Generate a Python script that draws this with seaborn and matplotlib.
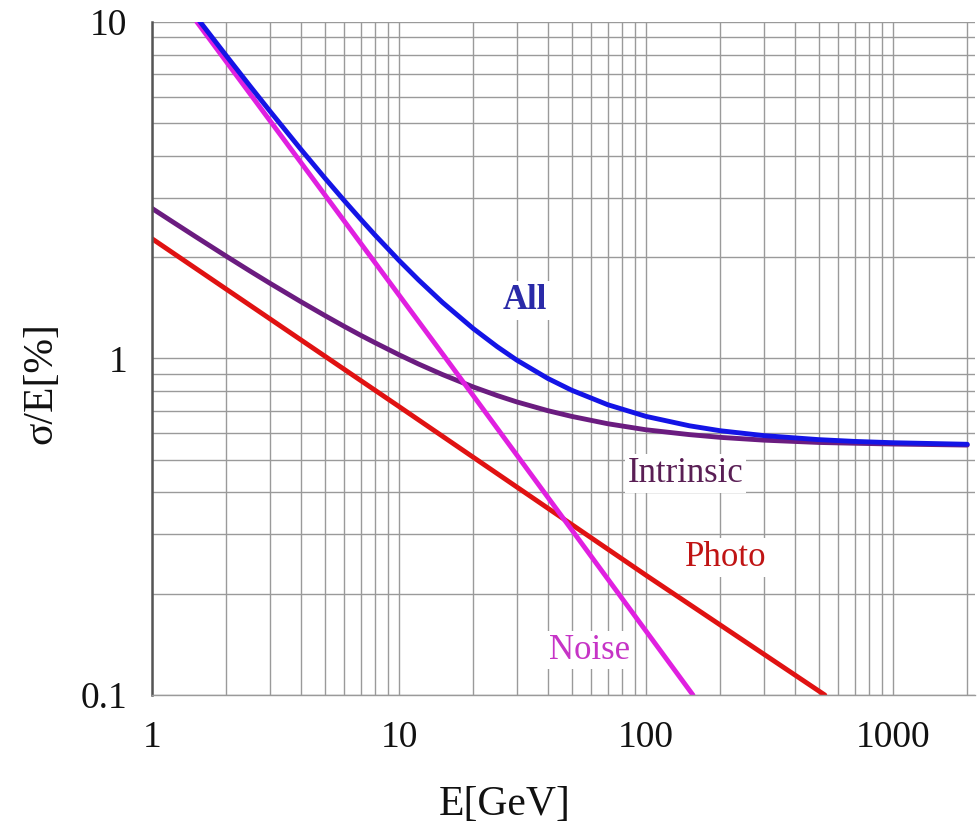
import numpy as np
import pandas as pd
import seaborn as sns
import matplotlib.pyplot as plt
from matplotlib.ticker import LogLocator, NullFormatter, FixedLocator, FixedFormatter

# values (log-log)
energy = [1, 1.2, 1.5, 2, 2.5, 3, 4, 5, 6, 7, 8, 10, 12, 15, 20, 25, 30, 40, 50, 70,
          100, 150, 200, 300, 500, 700, 1000, 2000]
sigma_all = [15.43, 12.93, 10.43, 7.934, 6.436, 5.438, 4.191, 3.444, 2.947, 2.593,
             2.327, 1.957, 1.712, 1.468, 1.227, 1.084, 0.989, 0.873, 0.805, 0.729,
             0.673, 0.631, 0.610, 0.590, 0.574, 0.567, 0.562, 0.556]
sigma_intrinsic = [2.793, 2.560, 2.303, 2.013, 1.817, 1.674, 1.476, 1.343, 1.246, 1.172,
                   1.114, 1.026, 0.963, 0.896, 0.823, 0.776, 0.743, 0.700, 0.673, 0.640,
                   0.614, 0.594, 0.583, 0.572, 0.563, 0.560, 0.557, 0.553]

photo_energy = [1, 10, 100, 530]
sigma_photo = [2.27, 0.72, 0.227, 0.1]

noise_energy = [1.52, 15.5, 155]
sigma_noise = [10, 1.0, 0.1]

x_ticks = [1, 10, 100, 1000]
x_labels = ['1', '10', '100', '1000']
y_ticks = [0.1, 1, 10]
y_labels = ['0.1', '1', '10']

sns.set_style('white')
plt.rcParams['font.family'] = ['Liberation Serif', 'DejaVu Serif']

fig = plt.figure(figsize=(9.8, 8.3), dpi=100)
ax = fig.add_axes([152 / 980, 1 - 695 / 830, (975 - 152) / 980, (695 - 22) / 830])

grid_col = '#9a9a9a'
ax.set_xscale('log')
ax.set_yscale('log')
ax.set_xlim(1, 2150)
ax.set_ylim(0.1, 10)

ax.xaxis.set_major_locator(FixedLocator(x_ticks))
ax.xaxis.set_major_formatter(FixedFormatter(x_labels))
ax.yaxis.set_major_locator(FixedLocator(y_ticks))
ax.yaxis.set_major_formatter(FixedFormatter(y_labels))
ax.xaxis.set_minor_locator(LogLocator(base=10, subs=np.arange(2, 10), numticks=20))
ax.yaxis.set_minor_locator(LogLocator(base=10, subs=np.arange(2, 10), numticks=20))
ax.xaxis.set_minor_formatter(NullFormatter())
ax.yaxis.set_minor_formatter(NullFormatter())

ax.grid(True, which='both', color=grid_col, linewidth=1.0)
ax.set_axisbelow(True)

for s in ['top', 'right']:
    ax.spines[s].set_visible(False)
ax.spines['left'].set_color('#555555')
ax.spines['left'].set_linewidth(1.8)
ax.spines['bottom'].set_color(grid_col)
ax.spines['bottom'].set_linewidth(1.0)

ax.tick_params(axis='both', which='major', direction='out', length=10, width=1,
               color=grid_col, labelsize=27, pad=8, labelcolor='#111111')
ax.tick_params(axis='both', which='minor', length=0)

lw = 3.5
sns.lineplot(x=energy, y=sigma_intrinsic, ax=ax, color='#6b1c80', linewidth=lw, estimator=None)
sns.lineplot(x=photo_energy, y=sigma_photo, ax=ax, color='#e01212', linewidth=lw, estimator=None)
sns.lineplot(x=noise_energy, y=sigma_noise, ax=ax, color='#e020e0', linewidth=lw, estimator=None)
sns.lineplot(x=energy, y=sigma_all, ax=ax, color='#1414e6', linewidth=lw, estimator=None)

box = dict(facecolor='white', edgecolor='none', pad=2)
ax.text(32.4, 1.49, 'All', color='#2a2aa8', fontsize=25, fontweight='bold',
        ha='center', va='center', bbox=box)
ax.text(145, 0.455, 'Intrinsic', color='#5a1f55', fontsize=25,
        ha='center', va='center', bbox=box)
ax.text(211, 0.256, 'Photo', color='#c01414', fontsize=25,
        ha='center', va='center', bbox=box)
ax.text(59.3, 0.136, 'Noise', color='#c634c6', fontsize=25,
        ha='center', va='center', bbox=box)

ax.set_xlabel('')
ax.set_ylabel('')
fig.text(41 / 980, 1 - 383 / 830, 'σ/E[%]', rotation=90, fontsize=30,
         ha='center', va='center', color='#111111')
fig.text(505 / 980, 1 - 805 / 830, 'E[GeV]', fontsize=30,
         ha='center', va='center', color='#111111')

fig.savefig('out.png', dpi=100, facecolor='white')
